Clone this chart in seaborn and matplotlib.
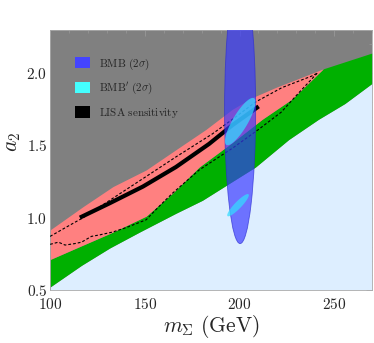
import numpy as np
import matplotlib
matplotlib.use("Agg")
import matplotlib.pyplot as plt
import seaborn as sns
from matplotlib.patches import Ellipse, Patch
from matplotlib.ticker import MultipleLocator, FuncFormatter

# ─── DATA ────────────────────────────────────────────────────────────────────
green_lo_x = [100, 116.6, 131.5, 147.2, 166.4, 180.4, 196.2, 208.4, 225.9, 241.6, 255.6, 270]
green_lo_y = [0.52, 0.67, 0.79, 0.90, 1.03, 1.12, 1.25, 1.35, 1.54, 1.68, 1.79, 1.93]

green_hi_x = [100, 115.7, 131.5, 150.7, 164.7, 178.7, 196.2, 211.9, 227.6, 244.2, 270]
green_hi_y = [0.71, 0.80, 0.89, 1.01, 1.17, 1.35, 1.52, 1.68, 1.82, 2.03, 2.14]

pink_hi_x = [100, 117.5, 133.2, 150.7, 166.4, 182.2, 196.2, 206.6, 218.9, 244.2]
pink_hi_y = [0.915, 1.077, 1.215, 1.33, 1.47, 1.61, 1.75, 1.83, 1.90, 2.03]

dash_hi_x = [100, 108, 117.5, 131.5, 149, 166.4, 185.7, 196.2, 208.4, 222.4, 238.1, 241]
dash_hi_y = [0.87, 0.93, 1.00, 1.12, 1.27, 1.42, 1.58, 1.68, 1.80, 1.90, 1.98, 2.00]

dash_lo_x = [100, 104.4, 107.9, 113, 116.6, 121.8, 126, 133, 140, 150.7, 157.7, 164.7,
             178.7, 196.2, 210, 222, 231, 241]
dash_lo_y = [0.815, 0.83, 0.81, 0.82, 0.83, 0.87, 0.88, 0.90, 0.93, 0.985, 1.08, 1.17,
             1.33, 1.48, 1.61, 1.73, 1.86, 2.00]

lisa_x = [115.7, 131.5, 149, 166.4, 183.9, 196.2, 210.1]
lisa_y = [1.0, 1.10, 1.215, 1.35, 1.51, 1.64, 1.77]

# BMB ellipse: centre, semi-axes
bmb_center = (200.3, 1.75)
bmb_semi = (8.2, 0.93)

# BMB' ellipses: centre x, centre y, sigma x, sigma y, phase (correlation)
bmbp_cx = [200.35, 199.2]
bmbp_cy = [1.665, 1.086]
bmbp_sx = [8.05, 5.7]
bmbp_sy = [0.164, 0.077]
bmbp_phi = [0.6, 0.45]

x_lim = (100, 270)
y_lim = (0.5, 2.3)

# ─── STYLE ───────────────────────────────────────────────────────────────────
sns.set_theme(style="white")
plt.rcParams['mathtext.fontset'] = 'cm'
plt.rcParams['font.family'] = ['DejaVu Serif']

c_gray = '#808080'
c_blue_bg = '#ddeeff'
c_green = '#00b000'
c_pink = '#ff8080'
c_blue = '#3838ff'
c_cyan = '#33ddff'

fig = plt.figure(figsize=(3.74, 3.43), dpi=100)
ax = fig.add_axes([0.134, 0.155, 0.861, 0.758])
ax.set_facecolor(c_gray)

# light blue region under the green band
ax.fill_between(green_lo_x, y_lim[0], green_lo_y, color=c_blue_bg, lw=0, zorder=1)
# green band
gx = np.union1d(green_lo_x, green_hi_x)
ax.fill_between(gx, np.interp(gx, green_lo_x, green_lo_y),
                np.interp(gx, green_hi_x, green_hi_y), color=c_green, lw=0, zorder=1)
# pink band
px = np.union1d(pink_hi_x, [v for v in green_hi_x if v <= pink_hi_x[-1]])
ax.fill_between(px, np.interp(px, green_hi_x, green_hi_y),
                np.interp(px, pink_hi_x, pink_hi_y), color=c_pink, lw=0, zorder=1)

# dashed contours
ax.plot(dash_hi_x, dash_hi_y, color='black', ls=(0, (2.5, 1.8)), lw=0.8, zorder=3)
ax.plot(dash_lo_x, dash_lo_y, color='black', ls=(0, (2.5, 1.8)), lw=0.8, zorder=3)

# LISA sensitivity
ax.plot(lisa_x, lisa_y, color='black', lw=3, solid_capstyle='butt', zorder=4)

# BMB ellipse
ax.add_patch(Ellipse(bmb_center, 2 * bmb_semi[0], 2 * bmb_semi[1],
                     facecolor=c_blue, edgecolor='#2a2ad0', lw=0.6, alpha=0.68, zorder=5))

# BMB' ellipses
t = np.linspace(0, 2 * np.pi, 200)
for cx, cy, sx, sy, ph in zip(bmbp_cx, bmbp_cy, bmbp_sx, bmbp_sy, bmbp_phi):
    ax.fill(cx + sx * np.cos(t), cy + sy * np.cos(t + ph),
            color=c_cyan, alpha=0.72, lw=0, zorder=6)

ax.set_xlim(*x_lim)
ax.set_ylim(*y_lim)

ax.xaxis.set_major_locator(MultipleLocator(50))
ax.xaxis.set_minor_locator(MultipleLocator(10))
ax.yaxis.set_major_locator(MultipleLocator(0.5))
ax.yaxis.set_minor_locator(MultipleLocator(0.1))
ax.xaxis.set_major_formatter(FuncFormatter(lambda v, p: r'$%d$' % v))
ax.yaxis.set_major_formatter(FuncFormatter(lambda v, p: r'$%.1f$' % v))
ax.tick_params(which='both', direction='in', top=True, right=True,
               color='#999999', labelsize=11, pad=2)
ax.tick_params(axis='x', which='major', pad=5)
ax.tick_params(which='major', length=4, width=0.6)
ax.tick_params(which='minor', length=2.5, width=0.5)
for s in ax.spines.values():
    s.set_color('#aaaaaa')
    s.set_linewidth(0.6)

ax.set_xlabel(r'$m_\Sigma\ (\mathrm{GeV})$', fontsize=15.5, labelpad=1)
ax.set_ylabel(r'$a_2$', fontsize=15.5)
ax.yaxis.set_label_coords(-0.085, 0.57)

handles = [Patch(facecolor='#4444ff', edgecolor='none'),
           Patch(facecolor='#44ffff', edgecolor='none'),
           Patch(facecolor='black', edgecolor='none')]
labels = [r'$\mathrm{BMB}\ (2\sigma)$', r"$\mathrm{BMB}'\ (2\sigma)$",
          r'$\mathrm{LISA\ sensitivity}$']
ax.legend(handles, labels, loc='upper left', bbox_to_anchor=(0.065, 0.915),
          frameon=False, fontsize=8, handlelength=1.3, handleheight=1.2,
          handletextpad=0.8, labelspacing=0.85, borderaxespad=0)

fig.savefig('out.png', dpi=100)
